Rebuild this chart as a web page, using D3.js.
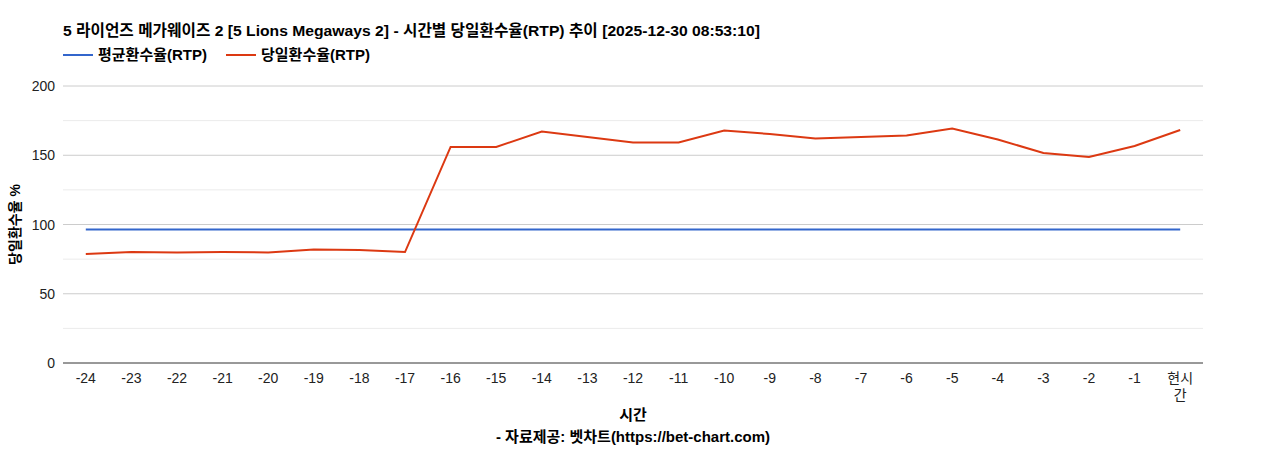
<!DOCTYPE html>
<html><head><meta charset="utf-8">
<script src="https://cdn.jsdelivr.net/npm/d3@7"></script>
<style>body{margin:0;background:#fff;font-family:Arial,"Liberation Sans","Noto Sans CJK KR",sans-serif}</style>
</head><body><div id="chart"></div>
<script>
const categories = ["-24","-23","-22","-21","-20","-19","-18","-17","-16","-15","-14","-13","-12","-11","-10","-9","-8","-7","-6","-5","-4","-3","-2","-1","현시간"];
const avgRtp = [96.4,96.4,96.4,96.4,96.4,96.4,96.4,96.4,96.4,96.4,96.4,96.4,96.4,96.4,96.4,96.4,96.4,96.4,96.4,96.4,96.4,96.4,96.4,96.4,96.4];
const dayRtp = [78.7,80.1,79.8,80.1,79.8,81.9,81.6,80.1,156,156,167.1,163.2,159.2,159.2,167.9,165.3,162.1,163.2,164.3,169.3,161.4,151.6,148.7,156.7,168.2];
const yTicks = [0,50,100,150,200];
const minorTicks = [25,75,125,175];

const W = 1268, H = 450, L = 63, R = 1203, T = 86, B = 363;
const svg = d3.select("#chart").append("svg").attr("width", W).attr("height", H);
const x = d3.scalePoint().domain(categories).range([L, R]).padding(0.5);
const y = d3.scaleLinear().domain([0, 200]).range([B, T]);

svg.append("g").selectAll("line").data(minorTicks).join("line")
  .attr("x1", L).attr("x2", R).attr("y1", d => y(d)).attr("y2", d => y(d)).attr("stroke", "#ebebeb");
svg.append("g").selectAll("line").data(yTicks.slice(1)).join("line")
  .attr("x1", L).attr("x2", R).attr("y1", d => y(d)).attr("y2", d => y(d)).attr("stroke", "#cccccc");
svg.append("line").attr("x1", L).attr("x2", R).attr("y1", B).attr("y2", B).attr("stroke", "#333");

svg.append("g").selectAll("text").data(yTicks).join("text")
  .attr("x", L - 8).attr("y", d => y(d) + 5).attr("text-anchor", "end")
  .attr("font-size", 14).attr("fill", "#222").text(d => d);

const xt = svg.append("g").selectAll("text").data(categories).join("text")
  .attr("x", d => x(d)).attr("y", B + 20).attr("text-anchor", "middle")
  .attr("font-size", 14).attr("fill", "#222");
xt.each(function(d) {
  const t = d3.select(this);
  if (d.length > 2 && !d.startsWith("-")) {
    t.append("tspan").attr("x", x(d)).text(d.slice(0, 2));
    t.append("tspan").attr("x", x(d)).attr("dy", 17).text(d.slice(2));
  } else t.text(d);
});

const line = d3.line().x((d, i) => x(categories[i])).y(d => y(d));
svg.append("path").datum(avgRtp).attr("d", line).attr("fill", "none").attr("stroke", "#3366cc").attr("stroke-width", 2);
svg.append("path").datum(dayRtp).attr("d", line).attr("fill", "none").attr("stroke", "#dc3912").attr("stroke-width", 2);

svg.append("text").attr("x", L).attr("y", 36).attr("font-size", 15.5).attr("font-weight", "bold")
  .attr("textLength", 697).attr("lengthAdjust", "spacingAndGlyphs")
  .text("5 라이언즈 메가웨이즈 2 [5 Lions Megaways 2] - 시간별 당일환수율(RTP) 추이 [2025-12-30 08:53:10]");

const legend = [["평균환수율(RTP)", "#3366cc"], ["당일환수율(RTP)", "#dc3912"]];
let lx = L;
legend.forEach(([name, c]) => {
  svg.append("line").attr("x1", lx).attr("x2", lx + 30).attr("y1", 55).attr("y2", 55).attr("stroke", c).attr("stroke-width", 2);
  const t = svg.append("text").attr("x", lx + 35).attr("y", 60).attr("font-size", 15).attr("font-weight", "bold").text(name);
  lx += 35 + t.node().getComputedTextLength() + 19;
});

svg.append("text").attr("transform", `translate(20,${(T + B) / 2}) rotate(-90)`).attr("text-anchor", "middle")
  .attr("font-size", 14).attr("font-weight", "bold").text("당일환수율 %");
svg.append("text").attr("x", (L + R) / 2).attr("y", 420).attr("text-anchor", "middle")
  .attr("font-size", 15).attr("font-weight", "bold").text("시간");
svg.append("text").attr("x", (L + R) / 2).attr("y", 442).attr("text-anchor", "middle")
  .attr("font-size", 15).attr("font-weight", "bold").text("- 자료제공: 벳차트(https://bet-chart.com)");
</script></body></html>
